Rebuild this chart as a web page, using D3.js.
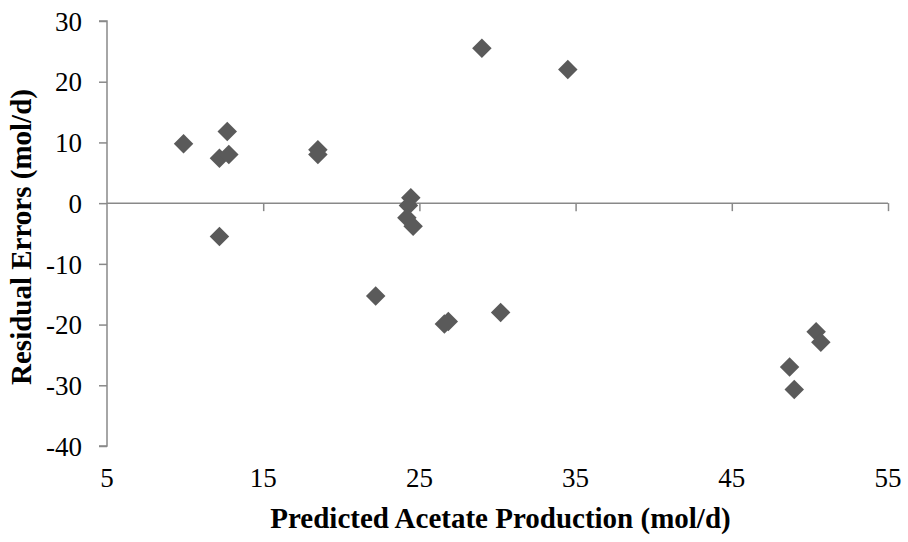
<!DOCTYPE html>
<html>
<head>
<meta charset="utf-8">
<script src="https://cdn.jsdelivr.net/npm/d3@7"></script>
<style>
  body { margin: 0; background: #fff; }
  svg { display: block; font-family: "Liberation Serif", "Times New Roman", serif; }
  .tick-label { font-size: 27px; fill: #000; font-family: "Liberation Serif", "Times New Roman", serif; }
  .axis-title { font-size: 29px; font-weight: bold; fill: #000; }
</style>
</head>
<body>
<svg id="chart"></svg>
<script>
// Predicted acetate production (mol/d) and residual errors (mol/d)
const predicted = [9.9, 12.2, 12.7, 12.8, 12.2, 18.5, 18.5, 22.2, 24.45, 24.3, 24.2, 24.6,
                   26.6, 26.85, 30.2, 29.0, 34.5, 50.4, 50.7, 48.7, 49.0];
const residuals = [9.8, 7.4, 11.8, 8.0, -5.5, 8.8, 8.0, -15.3, 0.9, -0.4, -2.4, -3.8,
                   -19.9, -19.5, -18.0, 25.5, 22.0, -21.2, -22.9, -27.0, -30.7];
const xTicks = [5, 15, 25, 35, 45, 55];
const yTicks = [-40, -30, -20, -10, 0, 10, 20, 30];

const config = {
    width: 908,
    height: 542,
    margin: {top: 21, right: 20, bottom: 96, left: 107}
};

const svg = d3.select('#chart')
    .attr('width', config.width)
    .attr('height', config.height);

const innerW = 888 - config.margin.left;
const innerH = 446 - config.margin.top;

const chart = svg.append('g')
    .attr('transform', `translate(${config.margin.left},${config.margin.top})`);

const xScale = d3.scaleLinear().domain([5, 55]).range([0, innerW]);
const yScale = d3.scaleLinear().domain([-40, 30]).range([innerH, 0]);

const axisColor = '#898989';

// y axis (left)
const yAxis = chart.append('g')
    .call(d3.axisLeft(yScale).tickValues(yTicks).tickSize(8).tickPadding(17));
yAxis.attr('font-family', null).attr('font-size', null);
yAxis.select('.domain').attr('stroke', axisColor).attr('stroke-width', 1.5)
    .attr('d', `M-8,${yScale(30)}H0V${yScale(-40)}H-8`);
yAxis.selectAll('.tick line').attr('stroke', axisColor).attr('stroke-width', 1.5);
yAxis.selectAll('.tick text')
    .attr('class', 'tick-label')
    .attr('dy', '0.34em')
    .text(d => d < 0 ? '-' + Math.abs(d) : d);

// x axis drawn at y = 0
const xAxis = chart.append('g')
    .attr('transform', `translate(0,${yScale(0)})`)
    .call(d3.axisBottom(xScale).tickValues(xTicks).tickSize(8).tickFormat(''));
xAxis.select('.domain').attr('stroke', axisColor).attr('stroke-width', 1.5)
    .attr('d', `M0,0H${innerW}`);
xAxis.selectAll('.tick line').attr('stroke', axisColor).attr('stroke-width', 1.5);
xAxis.selectAll('.tick').filter(d => d === 5).remove();

// x tick labels at the bottom
chart.append('g').selectAll('text')
    .data(xTicks)
    .join('text')
    .attr('class', 'tick-label')
    .attr('x', d => xScale(d))
    .attr('y', innerH + 41)
    .attr('text-anchor', 'middle')
    .text(d => d);

// diamond markers
const diamond = d3.symbol().type(d3.symbolSquare).size(190);
chart.selectAll('.point')
    .data(predicted.map((p, i) => ({x: p, y: residuals[i]})))
    .join('path')
    .attr('class', 'point')
    .attr('d', diamond)
    .attr('transform', d => `translate(${xScale(d.x)},${yScale(d.y)}) rotate(45)`)
    .attr('fill', '#5a5a5a');

// axis titles
svg.append('text')
    .attr('class', 'axis-title')
    .attr('x', config.margin.left + innerW / 2 + 3)
    .attr('y', 528)
    .attr('text-anchor', 'middle')
    .text('Predicted Acetate Production (mol/d)');

svg.append('text')
    .attr('class', 'axis-title')
    .attr('transform', `translate(31,237) rotate(-90)`)
    .attr('text-anchor', 'middle')
    .text('Residual Errors (mol/d)');
</script>
</body>
</html>
